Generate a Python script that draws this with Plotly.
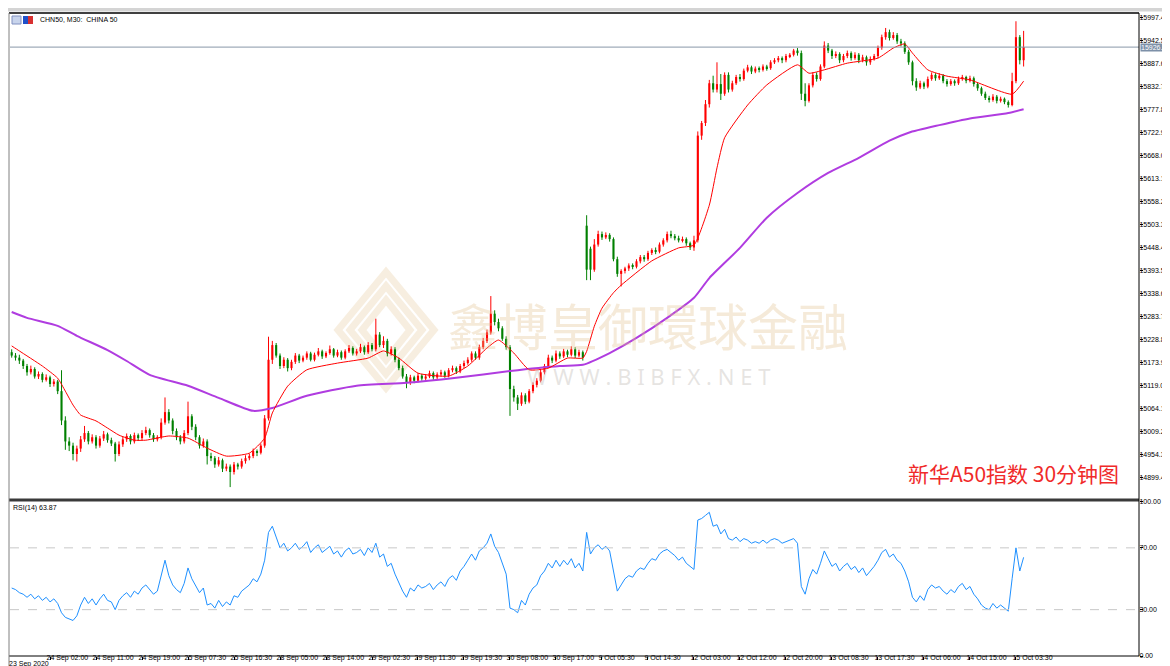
import plotly.graph_objects as go

# ---------------- data ----------------
opens = [
    15198, 15190, 15185, 15178, 15165, 15150, 15158, 15140, 15146, 15132,
    15138, 15122, 15128, 15105, 15035, 14985, 14975, 14955, 14968, 14990,
    15005, 14985, 14995, 14975, 14992, 15002, 14988, 14980, 14955, 14978,
    14990, 14998, 14985, 15000, 14993, 15005, 15012, 15000, 14990, 14995,
    15030, 15055, 15035, 15010, 14995, 14985, 15005, 15045, 15020, 14995,
    14975, 14985, 14950, 14945, 14930, 14940, 14920, 14925, 14912, 14930,
    14925, 14938, 14945, 14950, 14962, 14958, 14975, 15040, 15180, 15215,
    15190, 15165, 15180, 15160, 15175, 15190, 15178, 15185, 15195, 15180,
    15192, 15200, 15188, 15196, 15205, 15190, 15198, 15185, 15200, 15208,
    15195, 15200, 15210, 15198, 15215, 15205, 15240, 15215, 15225, 15195,
    15205, 15180, 15160, 15140, 15125, 15138, 15130, 15142, 15135, 15140,
    15148, 15138, 15145, 15150, 15142, 15155, 15160, 15152, 15165, 15172,
    15180, 15195, 15185, 15210, 15225, 15245, 15290, 15270, 15255, 15230,
    15210, 15110, 15090, 15075, 15095, 15080, 15105, 15120, 15130, 15150,
    15165, 15185, 15178, 15195, 15188, 15200, 15192, 15205, 15190, 15198,
    15500, 15445, 15395, 15455, 15480, 15472, 15478, 15468, 15420, 15385,
    15392, 15398, 15405, 15402, 15415, 15425, 15420, 15435, 15442, 15438,
    15455, 15465, 15480, 15475, 15470, 15465, 15468, 15458, 15448, 15465,
    15715, 15745, 15790, 15840, 15825, 15838, 15815, 15860, 15825, 15840,
    15855, 15850, 15870, 15878, 15868, 15875, 15872, 15880, 15876, 15890,
    15895, 15900, 15895, 15905, 15908, 15918, 15912, 15815, 15798, 15835,
    15860, 15850, 15880, 15930, 15918, 15905, 15910, 15895, 15905, 15912,
    15900, 15908, 15895, 15902, 15890, 15898, 15905, 15925, 15950, 15962,
    15948, 15955, 15940, 15935, 15915, 15890, 15845, 15830, 15840, 15832,
    15850, 15860, 15852, 15858, 15845, 15838, 15845, 15840, 15850, 15855,
    15846, 15852, 15838, 15828, 15815, 15805, 15800, 15808, 15798, 15803,
    15795, 15788, 15845, 15950, 15895,
]
highs = [
    15205, 15196, 15192, 15182, 15170, 15166, 15162, 15152, 15150, 15145,
    15142, 15134, 15132, 15155, 15045, 14995, 14982, 14975, 14998, 15022,
    15010, 15002, 15000, 14998, 15010, 15006, 14994, 14984, 14985, 14996,
    15004, 15002, 15006, 15004, 15012, 15020, 15016, 15005, 15000, 15040,
    15090, 15062, 15040, 15016, 15000, 15012, 15080, 15050, 15026, 15000,
    14992, 14990, 14958, 14950, 14948, 14944, 14932, 14930, 14936, 14934,
    14944, 14952, 14956, 14968, 14966, 14980, 15048, 15235, 15225, 15220,
    15195, 15186, 15184, 15180, 15196, 15194, 15190, 15200, 15199, 15197,
    15208, 15204, 15200, 15214, 15208, 15204, 15202, 15205, 15215, 15212,
    15206, 15218, 15214, 15222, 15220, 15278, 15246, 15236, 15230, 15212,
    15210, 15185, 15166, 15146, 15144, 15142, 15148, 15146, 15146, 15154,
    15152, 15150, 15156, 15154, 15160, 15166, 15164, 15170, 15178, 15186,
    15200, 15200, 15216, 15232, 15252, 15332, 15298, 15278, 15260, 15236,
    15215, 15118, 15096, 15102, 15100, 15110, 15126, 15136, 15156, 15170,
    15192, 15190, 15202, 15200, 15206, 15204, 15212, 15210, 15204, 15202,
    15525, 15450, 15468, 15488, 15486, 15484, 15482, 15472, 15426, 15396,
    15402, 15410, 15410, 15420, 15430, 15430, 15440, 15446, 15448, 15460,
    15470, 15486, 15488, 15480, 15476, 15474, 15472, 15462, 15476, 15725,
    15750, 15800, 15848, 15858, 15890, 15862, 15866, 15866, 15846, 15860,
    15862, 15875, 15884, 15882, 15880, 15880, 15885, 15884, 15895, 15900,
    15905, 15904, 15910, 15912, 15922, 15924, 15918, 15840, 15840, 15866,
    15866, 15885, 15940, 15936, 15922, 15916, 15914, 15910, 15918, 15916,
    15914, 15912, 15908, 15906, 15904, 15910, 15930, 15956, 15972, 15968,
    15962, 15960, 15946, 15940, 15920, 15894, 15852, 15846, 15844, 15856,
    15866, 15864, 15864, 15862, 15850, 15850, 15849, 15856, 15860, 15858,
    15858, 15856, 15842, 15832, 15820, 15810, 15814, 15812, 15808, 15806,
    15799, 15865, 15988, 15955, 15965,
]
lows = [
    15185, 15178, 15170, 15158, 15142, 15145, 15135, 15134, 15126, 15128,
    15115, 15116, 15098, 15024, 14965, 14962, 14940, 14937, 14960, 14984,
    14978, 14980, 14968, 14970, 14986, 14982, 14974, 14937, 14950, 14972,
    14984, 14978, 14980, 14986, 14988, 15000, 14994, 14984, 14985, 14990,
    15025, 15028, 15002, 14988, 14978, 14980, 15000, 15012, 14988, 14968,
    14970, 14930, 14938, 14922, 14925, 14912, 14914, 14876, 14906, 14918,
    14920, 14932, 14940, 14945, 14950, 14954, 14970, 15035, 15170, 15185,
    15158, 15160, 15152, 15155, 15170, 15172, 15174, 15180, 15176, 15176,
    15188, 15182, 15184, 15192, 15185, 15186, 15180, 15181, 15196, 15190,
    15190, 15196, 15192, 15194, 15200, 15200, 15210, 15208, 15188, 15190,
    15174, 15155, 15135, 15112, 15120, 15124, 15126, 15130, 15130, 15136,
    15132, 15134, 15140, 15137, 15138, 15150, 15146, 15148, 15160, 15168,
    15175, 15180, 15180, 15205, 15220, 15240, 15262, 15248, 15225, 15204,
    15046, 15080, 15060, 15070, 15074, 15076, 15100, 15114, 15126, 15145,
    15160, 15172, 15174, 15182, 15184, 15186, 15188, 15184, 15186, 15178,
    15370, 15370, 15390, 15450, 15466, 15468, 15462, 15415, 15378, 15355,
    15386, 15392, 15396, 15398, 15410, 15414, 15416, 15430, 15432, 15434,
    15450, 15460, 15470, 15465, 15460, 15460, 15452, 15442, 15440, 15460,
    15705, 15738, 15782, 15818, 15818, 15800, 15810, 15818, 15820, 15836,
    15844, 15846, 15866, 15862, 15864, 15866, 15868, 15870, 15872, 15886,
    15890, 15888, 15890, 15900, 15904, 15906, 15800, 15785, 15794, 15830,
    15844, 15846, 15876, 15912, 15898, 15900, 15888, 15890, 15900, 15894,
    15896, 15888, 15890, 15882, 15884, 15894, 15900, 15920, 15944, 15942,
    15944, 15934, 15928, 15910, 15884, 15835, 15822, 15826, 15826, 15828,
    15846, 15846, 15848, 15840, 15832, 15834, 15834, 15836, 15846, 15840,
    15842, 15832, 15822, 15810, 15800, 15794, 15796, 15792, 15794, 15790,
    15782, 15785, 15840, 15885, 15880,
]
closes = [
    15190, 15185, 15178, 15165, 15150, 15158, 15140, 15146, 15132, 15138,
    15122, 15128, 15105, 15035, 14985, 14975, 14955, 14968, 14990, 15005,
    14985, 14995, 14975, 14992, 15002, 14988, 14980, 14955, 14978, 14990,
    14998, 14985, 15000, 14993, 15005, 15012, 15000, 14990, 14995, 15030,
    15055, 15035, 15010, 14995, 14985, 15005, 15045, 15020, 14995, 14975,
    14985, 14950, 14945, 14930, 14940, 14920, 14925, 14912, 14930, 14925,
    14938, 14945, 14950, 14962, 14958, 14975, 15040, 15180, 15215, 15190,
    15165, 15180, 15160, 15175, 15190, 15178, 15185, 15195, 15180, 15192,
    15200, 15188, 15196, 15205, 15190, 15198, 15185, 15200, 15208, 15195,
    15200, 15210, 15198, 15215, 15205, 15240, 15215, 15225, 15195, 15205,
    15180, 15160, 15140, 15125, 15138, 15130, 15142, 15135, 15140, 15148,
    15138, 15145, 15150, 15142, 15155, 15160, 15152, 15165, 15172, 15180,
    15195, 15185, 15210, 15225, 15245, 15290, 15270, 15255, 15230, 15210,
    15110, 15090, 15075, 15095, 15080, 15105, 15120, 15130, 15150, 15165,
    15185, 15178, 15195, 15188, 15200, 15192, 15205, 15190, 15198, 15185,
    15395, 15395, 15455, 15480, 15472, 15478, 15468, 15420, 15385, 15392,
    15398, 15405, 15402, 15415, 15425, 15420, 15435, 15442, 15438, 15455,
    15465, 15480, 15475, 15470, 15465, 15468, 15458, 15448, 15465, 15715,
    15745, 15790, 15840, 15825, 15838, 15815, 15860, 15825, 15840, 15855,
    15850, 15870, 15878, 15868, 15875, 15872, 15880, 15876, 15890, 15895,
    15900, 15895, 15905, 15908, 15918, 15912, 15815, 15798, 15835, 15860,
    15850, 15880, 15930, 15918, 15905, 15910, 15895, 15905, 15912, 15900,
    15908, 15895, 15902, 15890, 15898, 15905, 15925, 15950, 15962, 15948,
    15955, 15940, 15935, 15915, 15890, 15845, 15830, 15840, 15832, 15850,
    15860, 15852, 15858, 15845, 15838, 15845, 15840, 15850, 15855, 15846,
    15852, 15838, 15828, 15815, 15805, 15800, 15808, 15798, 15803, 15795,
    15788, 15845, 15950, 15895, 15926.3,
]
rsi_values = [
    44, 43, 41, 40, 38, 40, 37, 39, 36, 38,
    35, 37, 34, 28, 25, 24, 23, 26, 33, 38,
    34, 37, 33, 37, 40, 36, 35, 30, 36, 39,
    41, 38, 42, 40, 44, 46, 43, 40, 42, 52,
    62, 52, 46, 43, 41, 47, 57, 50, 45, 41,
    44, 33, 34, 31, 36, 32, 35, 33, 39, 38,
    42, 44, 46, 50, 48, 53, 62, 80, 84, 77,
    70, 73, 68, 70, 73, 69, 71, 74, 67, 70,
    72, 67, 69, 71, 66, 68, 64, 68, 70, 66,
    67, 69, 65, 70, 67, 73, 64, 66, 58, 60,
    53, 47, 42, 38, 44, 42, 46, 44, 45, 47,
    43, 46, 48, 45, 50, 52, 49, 55, 58, 62,
    66, 62, 68, 70, 73, 79, 71, 67, 60, 53,
    31, 30, 28, 36, 33, 40, 44, 46, 52, 55,
    60, 57, 62, 58, 62, 59, 63, 57, 60, 55,
    80, 66, 70, 72, 69, 71, 68, 55, 42, 46,
    50, 52, 51, 55, 57, 56, 60, 63, 62, 66,
    68, 69, 67, 65, 62, 64, 60, 58, 56, 88,
    89, 91, 93, 84, 85, 79, 82, 76, 75, 77,
    74, 76, 75, 73, 74, 73, 75, 73, 75, 76,
    75, 73, 74, 75, 76, 73, 45, 40, 50, 56,
    53, 60, 68, 63, 58, 60, 55, 58, 60, 56,
    58, 54, 57, 52, 55, 58, 62, 67, 69, 64,
    66, 62, 60, 55, 48, 38, 35, 39, 36, 43,
    46, 44, 45, 42, 40, 43, 41, 45, 47, 43,
    45, 40, 37, 33, 31, 30, 34, 31, 33, 31,
    29, 50, 70, 55, 63.87,
]
ma_fast_bars = [0, 2, 8, 12, 14, 16, 18, 22, 25, 28, 32, 35, 41, 46, 51, 56, 62, 66, 68, 72,
                77, 85, 93, 97, 101, 106, 114, 119, 124, 127, 131, 135, 140, 145, 149, 150,
                152, 154, 157, 159, 167, 174, 178, 182, 184, 186, 192, 197, 205, 208, 212,
                218, 226, 230, 233, 235, 239, 244, 250, 261, 264]
ma_fast_values = [15213, 15201, 15165, 15136, 15105, 15072, 15048, 15034, 15017, 15000, 14988,
                  14988, 14998, 14993, 14969, 14950, 14957, 14993, 15053, 15117, 15156, 15172,
                  15184, 15201, 15184, 15148, 15141, 15165, 15208, 15227, 15196, 15156, 15160,
                  15184, 15184, 15200, 15260, 15303, 15340, 15358, 15416, 15447, 15454, 15549,
                  15638, 15710, 15788, 15836, 15884, 15864, 15872, 15888, 15900, 15924, 15934,
                  15912, 15872, 15857, 15848, 15814, 15845]
ma_slow_bars = [0, 4, 12, 17, 25, 30, 36, 46, 54, 63, 68, 77, 90, 103, 116, 130, 143, 149, 156,
                163, 171, 178, 182, 190, 197, 205, 213, 221, 229, 234, 242, 250, 260, 264]
ma_slow_values = [15294, 15280, 15261, 15237, 15203, 15177, 15144, 15118, 15089, 15058, 15065,
                  15094, 15118, 15125, 15137, 15153, 15165, 15168, 15196, 15232, 15280, 15328,
                  15375, 15447, 15519, 15578, 15626, 15662, 15703, 15722, 15740, 15756, 15769,
                  15778]
price_ticks = [15997.40, 15942.50, 15887.60, 15832.70, 15777.80, 15722.90, 15668.00, 15613.10,
               15558.20, 15503.30, 15448.40, 15393.50, 15338.60, 15283.70, 15228.80, 15173.90,
               15119.00, 15064.10, 15009.20, 14954.30, 14899.40]
rsi_ticks = [100, 70, 30, 0]
rsi_levels = [70, 30]
time_tick_bars = [10, 22, 34, 46, 58, 70, 82, 94, 106, 118, 130, 142, 154, 166, 178, 190, 202,
                  214, 226, 238, 250, 262]
time_tick_labels = ["24 Sep 02:00", "24 Sep 11:00", "24 Sep 19:00", "25 Sep 07:30",
                    "25 Sep 16:30", "28 Sep 05:00", "28 Sep 14:00", "29 Sep 02:30",
                    "29 Sep 11:30", "29 Sep 19:30", "30 Sep 08:00", "30 Sep 17:00",
                    "9 Oct 05:30", "9 Oct 14:30", "12 Oct 03:00", "12 Oct 12:00",
                    "12 Oct 20:00", "13 Oct 08:30", "13 Oct 17:30", "14 Oct 06:00",
                    "14 Oct 15:00", "15 Oct 03:30"]
first_time_label = "23 Sep 2020"
symbol_title = "CHN50, M30:  CHINA 50"
rsi_title = "RSI(14) 63.87"
chart_caption = "新华A50指数 30分钟图"
watermark_cn = "鑫博皇御環球金融"
watermark_url = "W W W . B I B F X . N E T"

# ---------------- styling ----------------
UP = "#FF0000"
DOWN = "#008000"
TICK_FONT = dict(family="Liberation Sans, Arial, sans-serif", size=7, color="#000000")

n = min(len(opens), len(highs), len(lows), len(closes))
bars = list(range(n))
body_base = [min(opens[i], closes[i]) for i in bars]
body_len = [max(abs(closes[i] - opens[i]), 2.4) for i in bars]
body_col = [UP if closes[i] >= opens[i] else DOWN for i in bars]

fig = go.Figure()

# wicks
for col in (UP, DOWN):
    wx, wy = [], []
    for i in bars:
        if body_col[i] == col:
            wx += [i, i, None]
            wy += [lows[i], highs[i], None]
    fig.add_trace(go.Scatter(x=wx, y=wy, mode="lines", line=dict(color=col, width=1),
                             hoverinfo="skip", xaxis="x", yaxis="y"))

# bodies
fig.add_trace(go.Bar(x=bars, y=body_len, base=body_base, width=0.55,
                     marker=dict(color=body_col, line=dict(width=0)),
                     xaxis="x", yaxis="y"))

# moving averages
fig.add_trace(go.Scatter(x=ma_slow_bars, y=ma_slow_values, mode="lines",
                         line=dict(color="#B03CE0", width=2, shape="spline", smoothing=0.6),
                         xaxis="x", yaxis="y"))
fig.add_trace(go.Scatter(x=ma_fast_bars, y=ma_fast_values, mode="lines",
                         line=dict(color="#FF0000", width=1, shape="spline", smoothing=0.5),
                         xaxis="x", yaxis="y"))

# RSI
m = min(n, len(rsi_values))
fig.add_trace(go.Scatter(x=bars[:m], y=rsi_values[:m], mode="lines",
                         line=dict(color="#1E90FF", width=1), xaxis="x2", yaxis="y2"))

# plot area: x 2..1131 px, y 5..648 px
L, R, T, B = 2, 1131, 5, 648
W, H = 1170, 666
PW, PH = R - L, B - T


def px(xp):
    return (xp - L) / PW


def py(yp):
    return (B - yp) / PH


xrange_ = [-0.44, 294.1]
price_dom = [py(491), 1.0]
rsi_dom = [0.0, py(493.5)]

fig.update_layout(
    width=W, height=H,
    margin=dict(l=L, r=W - R, t=T, b=H - B),
    paper_bgcolor="white", plot_bgcolor="white",
    showlegend=False, barmode="overlay",
    xaxis=dict(domain=[0, 1], range=xrange_, anchor="y", showticklabels=False, ticks="",
               showgrid=False, zeroline=False, showline=False),
    xaxis2=dict(domain=[0, 1], range=xrange_, anchor="y2", matches="x",
                tickmode="array", tickvals=time_tick_bars, ticktext=time_tick_labels,
                tickangle=0, ticks="outside", ticklen=3, tickcolor="#000000",
                ticklabelposition="outside right", ticklabelstandoff=-5, ticklabelshift=-4,
                tickfont=TICK_FONT,
                showgrid=False, zeroline=False, showline=False),
    yaxis=dict(domain=price_dom, range=[14847.6, 16007.7], side="right", anchor="x",
               tickmode="array", tickvals=price_ticks,
               ticktext=[f"{v:.2f}" for v in price_ticks],
               ticks="outside", ticklen=3, tickcolor="#000000", tickfont=TICK_FONT,
               ticklabelstandoff=-5,
               showgrid=False, zeroline=False, showline=False),
    yaxis2=dict(domain=rsi_dom, range=[0, 100], side="right", anchor="x2",
                tickmode="array", tickvals=rsi_ticks,
                ticktext=[f"{v:.2f}" for v in rsi_ticks],
                ticks="outside", ticklen=3, tickcolor="#000000", tickfont=TICK_FONT,
                ticklabelstandoff=-5,
                showgrid=False, zeroline=False, showline=False),
)

shapes = []
for lv in rsi_levels:
    shapes.append(dict(type="line", xref="paper", yref="y2", x0=0, x1=1, y0=lv, y1=lv,
                       line=dict(color="#C8C8C8", width=1, dash="dash")))
shapes.append(dict(type="line", xref="paper", yref="y", x0=0, x1=1,
                   y0=closes[n - 1], y1=closes[n - 1],
                   line=dict(color="#8898A8", width=1)))

# faint logo of the watermark (diamond outline)
logo_cx, logo_cy = 378, 322
for k, (dx, dy) in enumerate([(48, 58), (36, 44), (24, 30)]):
    path = (f"M {px(logo_cx)} {py(logo_cy - dy)} L {px(logo_cx + dx)} {py(logo_cy)} "
            f"L {px(logo_cx)} {py(logo_cy + dy)} L {px(logo_cx - dx)} {py(logo_cy)} Z")
    shapes.append(dict(type="path", xref="paper", yref="paper", path=path,
                       fillcolor="rgba(0,0,0,0)",
                       line=dict(color="rgba(232,205,165,0.35)", width=7), layer="below"))

shapes += [
    dict(type="rect", xref="paper", yref="paper", x0=px(0), x1=px(W), y0=py(0), y1=py(3.5),
         fillcolor="#D4D4D4", line=dict(width=0), layer="above"),
    dict(type="line", xref="paper", yref="paper", x0=px(1), x1=1, y0=1, y1=1,
         line=dict(color="#000000", width=1.5)),
    dict(type="line", xref="paper", yref="paper", x0=px(1), x1=1, y0=py(492), y1=py(492),
         line=dict(color="#3A3A3A", width=3)),
    dict(type="line", xref="paper", yref="paper", x0=px(1), x1=1, y0=0, y1=0,
         line=dict(color="#000000", width=1)),
    dict(type="line", xref="paper", yref="paper", x0=1, x1=1, y0=0, y1=1,
         line=dict(color="#000000", width=1)),
    dict(type="line", xref="paper", yref="paper", x0=px(1), x1=px(1), y0=py(666), y1=1,
         line=dict(color="#808080", width=1)),
    dict(type="rect", xref="paper", yref="paper", x0=px(0), x1=px(W), y0=py(666), y1=py(662.5),
         fillcolor="#B4B4B4", line=dict(width=0)),
    dict(type="rect", xref="paper", yref="paper", x0=px(2), x1=px(57), y0=py(666), y1=py(662.5),
         fillcolor="#F4F4F4", line=dict(width=0)),
    dict(type="rect", xref="paper", yref="paper", x0=px(4), x1=px(13), y0=py(16), y1=py(8),
         fillcolor="#C8D4EC", line=dict(color="#8090C0", width=1)),
    dict(type="rect", xref="paper", yref="paper", x0=px(15), x1=px(20), y0=py(16), y1=py(8),
         fillcolor="#2050C8", line=dict(width=0)),
    dict(type="rect", xref="paper", yref="paper", x0=px(20), x1=px(25), y0=py(16), y1=py(8),
         fillcolor="#D83030", line=dict(width=0)),
]
fig.update_layout(shapes=shapes)

ann = [
    dict(text=symbol_title, xref="paper", yref="paper", x=px(30), y=py(12), xanchor="left",
         yanchor="middle", showarrow=False, font=TICK_FONT),
    dict(text=rsi_title, xref="paper", yref="paper", x=px(3), y=py(500), xanchor="left",
         yanchor="middle", showarrow=False, font=TICK_FONT),
    dict(text=first_time_label, xref="paper", yref="paper", x=px(0), y=py(656),
         xanchor="left", yanchor="middle", xshift=-1, showarrow=False, font=TICK_FONT),
    dict(text=f"{closes[n - 1]:.2f}", xref="paper", yref="y", x=1, y=closes[n - 1],
         xanchor="left", yanchor="middle", xshift=1, showarrow=False,
         bgcolor="#7D90A8", borderpad=0, font=dict(TICK_FONT, color="#FFFFFF")),
    dict(text=chart_caption, xref="paper", yref="paper", x=px(898), y=py(465),
         xanchor="left", yanchor="middle", showarrow=False,
         font=dict(family="Noto Sans CJK SC", size=21, color="#F02A2A")),
    dict(text=watermark_cn, xref="paper", yref="paper", x=px(640), y=py(316),
         xanchor="center", yanchor="middle", showarrow=False,
         font=dict(family="Noto Sans CJK TC", size=50, color="rgba(225,190,140,0.33)")),
    dict(text=watermark_url, xref="paper", yref="paper", x=px(641), y=py(368),
         xanchor="center", yanchor="middle", showarrow=False,
         font=dict(family="Noto Sans", size=22, color="rgba(200,195,190,0.45)")),
]
fig.update_layout(annotations=ann)

fig.write_html("out.html")
